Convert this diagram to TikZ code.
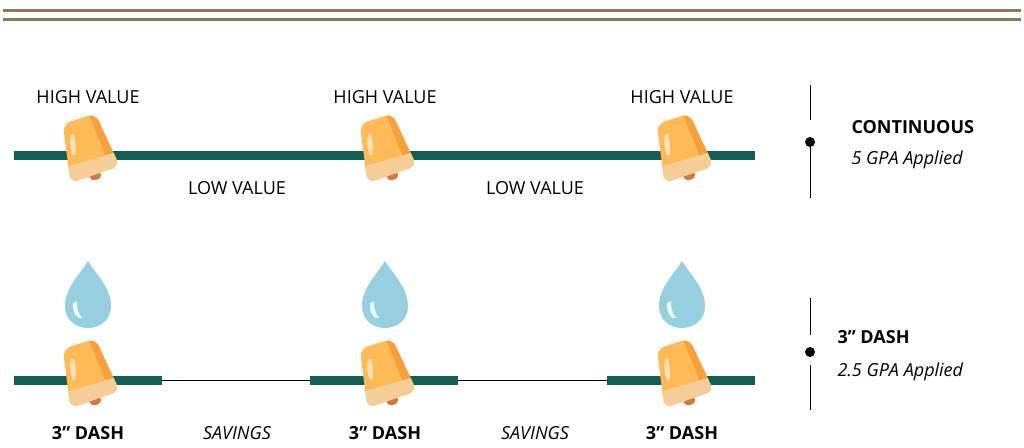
\documentclass[tikz,border=0pt]{standalone}
\usepackage{fontspec}
\setmainfont{Open Sans}
\definecolor{kern}{RGB}{253,186,86}
\definecolor{kernd}{RGB}{246,160,60}
\definecolor{kernl}{RGB}{244,206,150}
\definecolor{tipc}{RGB}{214,120,60}
\definecolor{dropc}{RGB}{150,208,224}
\definecolor{linec}{RGB}{18,94,84}
\definecolor{rule}{RGB}{139,122,88}
\begin{document}
\begin{tikzpicture}[x=1pt,y=-1pt,
  lbl/.style={font=\fontsize{18}{21}\selectfont},
  blbl/.style={font=\fontsize{18}{21}\selectfont\bfseries},
  ilbl/.style={font=\fontsize{18}{21}\selectfont\itshape},
  thick line/.style={draw=linec,line width=9pt},
  kernel/.pic={
    \begin{scope}[rotate=16]
      \fill[tipc] (0,27) ellipse (6pt and 4pt);
      \path[fill=kern,rounded corners=8pt] (-17,-32) -- (17,-33) -- (26,24) -- (-26,27) -- cycle;
      \begin{scope}
        \clip[rounded corners=8pt] (-17,-32) -- (17,-33) -- (26,24) -- (-26,27) -- cycle;
        \fill[kernd] (10,-40) -- (30,-40) -- (30,35) -- (18,35) -- cycle;
        \fill[kernl] (-30,10) rectangle (30,35);
      \end{scope}
      \fill[white,opacity=.55] (-16,-8) .. controls (-14,-20) and (-10,-22) .. (-9,-18) .. controls (-10,-5) and (-13,5) .. (-16,0) -- cycle;
    \end{scope}},
  drop/.pic={
    \fill[dropc] (0,-37) .. controls (8,-24) and (23,-10) .. (23,8) .. controls (23,22) and (12,30) .. (0,30) .. controls (-12,30) and (-23,22) .. (-23,8) .. controls (-23,-10) and (-8,-24) .. (0,-37) -- cycle;
    \fill[white,opacity=.85] (-15,5) .. controls (-16,15) and (-10,22) .. (-6,20) .. controls (-10,15) and (-11,10) .. (-11,3) -- cycle;
  }]
\useasboundingbox (0,0) rectangle (1024,447);
\draw[rule,line width=3pt] (3,10) -- (1021,10);
\draw[rule,line width=3pt] (3,19) -- (1021,19);
% top row
\coordinate (t1) at (14,155); \coordinate (t2) at (755,155);
\draw[thick line] (t1) -- (t2);
\foreach \x in {88,385,682} {
  \pic at (\x,150) {kernel};
  \node[lbl] at (\x,97) {HIGH VALUE};
}
\node[lbl] (lv1) at (237,188) {LOW VALUE};
\node[lbl] (lv2) at (535,188) {LOW VALUE};
% bottom row
\coordinate (a1) at (14,380); \coordinate (a2) at (162,380);
\coordinate (b1) at (310,380); \coordinate (b2) at (458,380);
\coordinate (c1) at (607,380); \coordinate (c2) at (755,380);
\draw[thin] (a2) -- (b1); \draw[thin] (b2) -- (c1);
\draw[thick line] (a1) -- (a2);
\draw[thick line] (b1) -- (b2);
\draw[thick line] (c1) -- (c2);
\foreach \x in {88,385,682} {
  \pic at (\x,298) {drop};
  \pic at (\x,375) {kernel};
  \node[blbl] at (\x,433) {3” DASH};
}
\node[ilbl] (s1) at (237,433) {SAVINGS};
\node[ilbl] (s2) at (535,433) {SAVINGS};
% legend
\draw (810,85) -- (810,120); \draw (810,140) -- (810,198);
\fill (810,142) circle (5pt);
\node[blbl,anchor=west] (cont) at (848,127) {CONTINUOUS};
\node[ilbl,anchor=west] (cg) at (848,160) {5 GPA Applied};
\draw (810,298) -- (810,335); \draw (810,365) -- (810,410);
\fill (810,352) circle (5pt);
\node[blbl,anchor=west] (dash) at (834,337) {3” DASH};
\node[ilbl,anchor=west] (dg) at (834,372) {2.5 GPA Applied};
\end{tikzpicture}
\end{document}
